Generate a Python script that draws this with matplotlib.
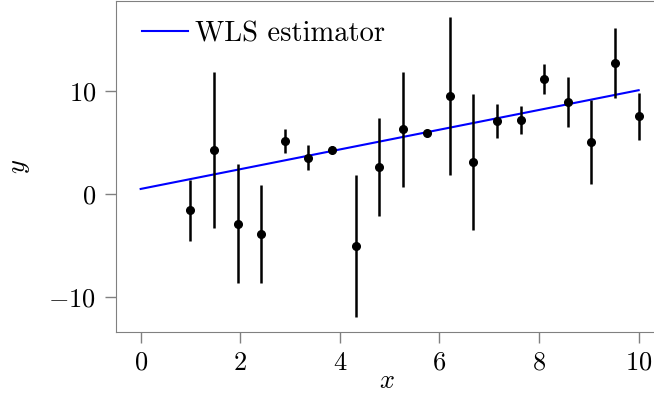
import matplotlib.pyplot as plt
import numpy as np

plt.rcParams['font.family'] = 'serif'
plt.rcParams['font.serif'] = ['cmr10']
plt.rcParams['mathtext.fontset'] = 'cm'
plt.rcParams['axes.formatter.use_mathtext'] = True

x_obs = [1.0, 1.47, 1.95, 2.42, 2.89, 3.37, 3.84, 4.32, 4.79, 5.26,
         5.74, 6.21, 6.68, 7.16, 7.63, 8.10, 8.58, 9.05, 9.53, 10.0]
y_obs = [-1.6, 4.3, -2.9, -3.9, 5.15, 3.55, 4.3, -5.1, 2.65, 6.3,
         5.95, 9.5, 3.1, 7.1, 7.2, 11.2, 8.95, 5.05, 12.75, 7.55]
y_err = [3.0, 7.6, 5.8, 4.8, 1.2, 1.2, 0.35, 6.9, 4.75, 5.6,
         0.2, 7.7, 6.6, 1.65, 1.4, 1.45, 2.4, 4.1, 3.4, 2.3]

wls_x = [0.0, 10.0]
wls_y = [0.49, 10.1]

fig = plt.figure(figsize=(6.54, 4.03), dpi=100)
ax = fig.add_axes([0.177, 0.177, 0.83, 0.821])

ax.plot(wls_x, wls_y, color='blue', lw=1.5, label='WLS estimator')
ax.errorbar(x_obs, y_obs, yerr=y_err, fmt='o', color='black',
            ms=5.5, elinewidth=1.8, capsize=0)

ax.set_xlim(-0.5, 10.4)
ax.set_ylim(-13.4, 18.8)
ax.set_xticks([0, 2, 4, 6, 8, 10])
ax.set_yticks([-10, 0, 10])
ax.set_xlabel('$x$', fontsize=19, labelpad=-4)
ax.set_ylabel('$y$', fontsize=19, labelpad=12)

for s in ax.spines.values():
    s.set_color('#808080')
ax.spines['right'].set_visible(False)
ax.tick_params(direction='out', length=8, width=1, color='#808080',
               labelsize=19, pad=6)

ax.legend(loc='upper left', bbox_to_anchor=(0.012, 1.0), frameon=False,
          fontsize=20.5, handlelength=1.6, handletextpad=0.25,
          borderaxespad=0.6, borderpad=0.1)

fig.savefig('out.png', dpi=100)
